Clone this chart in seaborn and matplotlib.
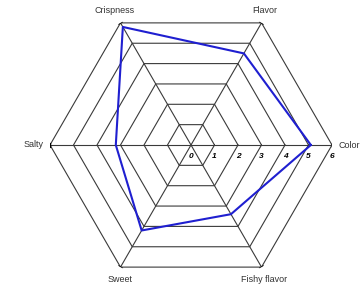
import numpy as np
import matplotlib
matplotlib.use("Agg")
import matplotlib.pyplot as plt
import seaborn as sns
import pandas as pd

categories = ["Color", "Flavor", "Crispness", "Salty", "Sweet", "Fishy flavor"]
values = [5.1, 4.5, 5.8, 3.2, 4.2, 3.4]
tick_labels = ["0", "1", "2", "3", "4", "5", "6"]
levels = [1, 2, 3, 4, 5, 6]

sns.set_style("white")
plt.rcParams['font.family'] = ['Liberation Sans', 'DejaVu Sans']

fig = plt.figure(figsize=(3.6, 2.86), dpi=100)
ax = fig.add_axes([50/360, 0/286, 282/360, 282/286], projection="polar")
ax.set_facecolor("white")

n = len(categories)
angles = np.arange(n) * 2 * np.pi / n
closed = np.append(angles, angles[0])

grid_col = "#3a3a3a"
# hexagon rings
for lv in levels:
    ax.plot(closed, [lv] * (n + 1), color=grid_col, lw=0.8, zorder=1)
# spokes
for a in angles:
    ax.plot([a, a], [0, 6], color=grid_col, lw=0.8, zorder=1)
    d = 2.2 / 141
    ax.plot([a - d, a + d], [6, 6], color="black", lw=1.0, zorder=1)

df = pd.DataFrame({"theta": np.append(angles, 2 * np.pi),
                   "r": values + [values[0]]})
sns.lineplot(data=df, x="theta", y="r", sort=False, estimator=None, ax=ax,
             color="#1f1fd0", lw=1.5, zorder=3)

ax.set_ylim(0, 6)
ax.set_xticks([])
ax.set_yticks([])
ax.grid(False)
ax.spines["polar"].set_visible(False)
ax.set_xlabel("")
ax.set_ylabel("")

# category labels
offsets = {
    0: ((5, 0), "left", "center"),
    1: ((2, 9), "center", "center"),
    2: ((-4, 9), "center", "center"),
    3: ((-5, 0), "right", "center"),
    4: ((0, -9), "center", "center"),
    5: ((2, -9), "center", "center"),
}
for i, (cat, a) in enumerate(zip(categories, angles)):
    (dx, dy), ha, va = offsets[i]
    ax.annotate(cat, xy=(a, 6), xytext=(dx, dy), textcoords="offset points",
                ha=ha, va=va, fontsize=6.5, color="#333333",
                annotation_clip=False)

# radial tick labels
for k, t in enumerate(tick_labels):
    ax.annotate(t, xy=(0, k), xytext=(0, -8), textcoords="offset points",
                ha="center", va="center", fontsize=6, fontweight="bold",
                fontstyle="italic", color="black", annotation_clip=False)

fig.savefig("out.png", dpi=100, facecolor="white")
